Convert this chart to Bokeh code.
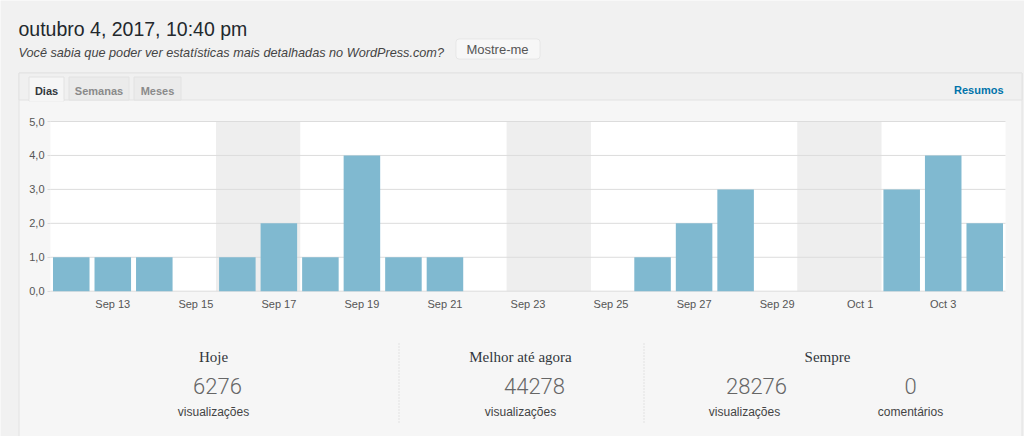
from bokeh.plotting import figure
from bokeh.models import Range1d, FixedTicker, LinearAxis, BoxAnnotation
from bokeh.embed import file_html
from bokeh.resources import INLINE
from bokeh.core.properties import value

# ---------------- data ----------------
days = ["Sep 12", "Sep 13", "Sep 14", "Sep 15", "Sep 16", "Sep 17", "Sep 18",
        "Sep 19", "Sep 20", "Sep 21", "Sep 22", "Sep 23", "Sep 24", "Sep 25",
        "Sep 26", "Sep 27", "Sep 28", "Sep 29", "Sep 30", "Oct 1", "Oct 2",
        "Oct 3", "Oct 4"]
views = [1, 1, 1, 0, 1, 2, 1, 4, 1, 1, 0, 0, 0, 0, 1, 2, 3, 0, 0, 0, 3, 4, 2]
weekend_days = ["Sep 16", "Sep 17", "Sep 23", "Sep 24", "Sep 30", "Oct 1"]
x_tick_days = ["Sep 13", "Sep 15", "Sep 17", "Sep 19", "Sep 21", "Sep 23",
               "Sep 25", "Sep 27", "Sep 29", "Oct 1", "Oct 3"]
y_ticks = [0, 1, 2, 3, 4, 5]
y_tick_labels = ["0,0", "1,0", "2,0", "3,0", "4,0", "5,0"]

title_text = "outubro 4, 2017, 10:40 pm"
subtitle_text = "Você sabia que poder ver estatísticas mais detalhadas no WordPress.com?"
button_text = "Mostre-me"
tabs = ["Dias", "Semanas", "Meses"]
link_text = "Resumos"

stat_headers = ["Hoje", "Melhor até agora", "Sempre"]
stat_numbers = ["6276", "44278", "28276", "0"]
stat_units = ["visualizações", "visualizações", "visualizações", "comentários"]

# ---------------- canvas (pixel space) ----------------
W, H = 1024, 436
# chart area on the canvas (pixels)
CL, CR, CT, CB = 50.0, 1005.0, 121.0, 290.7

n = len(days)
idx = list(range(n))
wk_idx = [days.index(d) for d in weekend_days]
ymax = y_ticks[-1]

p = figure(width=W, height=H, output_backend="svg", toolbar_location=None,
           x_range=Range1d(0, W), y_range=Range1d(H, 0),
           x_axis_location=None, y_axis_location=None,
           min_border=0, background_fill_color="#f1f1f1",
           border_fill_color="#f1f1f1", outline_line_color=None)
p.grid.visible = False

# chart ranges mapped into the chart area
xu = (CR - CL) / n
x0 = -0.5 - CL / xu
x1 = n - 0.5 + (W - CR) / xu
yu = (CB - CT) / ymax
y0 = -(H - CB) / yu
y1 = ymax + CT / yu
p.extra_x_ranges = {"days": Range1d(x0, x1)}
p.extra_y_ranges = {"views": Range1d(y0, y1)}
R = dict(x_range_name="days", y_range_name="views")


def rect(l, r, t, b, fill, line=None):
    p.quad(left=[l], right=[r], top=[t], bottom=[b], fill_color=fill,
           line_color=line, line_width=1)


def txt(x, y, s, size, color, font="Liberation Sans", style="normal",
        align="left", baseline="middle"):
    p.text(x=[x], y=[y], text=[s], text_font=value(font), text_font_size=size,
           text_font_style=style, text_color=color, text_align=align,
           text_baseline=baseline)


# panel
rect(18.5, 1021.5, 72.5, 445, "#f6f6f6", "#e2e2e2")
rect(18.5, 1021.5, 72.5, 99.5, "#f0f0f0", "#e2e2e2")
tab_boxes = [(68.5, 128.5), (133.5, 180.5)]
for l, r in tab_boxes:
    rect(l, r, 76.5, 99.5, "#ebebeb", "#e2e2e2")
rect(28.5, 63.5, 76.5, 100.5, "#f6f6f6", "#e2e2e2")
rect(29, 63, 99, 101, "#f6f6f6")

# button
p.add_layout(BoxAnnotation(left=455.5, right=539.5, top=38.5, bottom=58.5,
                           fill_color="#f7f7f7", fill_alpha=1,
                           line_color="#c8c8c8", border_radius=3,
                           level="underlay"))

# separators
p.segment(x0=[398.5, 643.5], x1=[398.5, 643.5], y0=[343, 343], y1=[422, 422],
          line_color="#cfcfcf", line_dash="1 2", line_width=1)

# chart background, weekend bands, grid lines, bars
p.quad(left=[-0.5], right=[n - 0.5], bottom=[0], top=[ymax], fill_color="white",
       line_color=None, **R)
p.vbar(x=wk_idx, top=ymax, bottom=0, width=1.03, fill_color="#eeeeee",
       line_color=None, **R)
p.segment(x0=-0.5, x1=n - 0.5, y0=y_ticks, y1=y_ticks, line_color="#dcdcdc",
          line_width=1, **R)
p.vbar(x=idx, top=views, width=0.88, fill_color="#80b9d0", line_color=None, **R)

# axes
yaxis = LinearAxis(ticker=FixedTicker(ticks=y_ticks), fixed_location=-0.5, **R)
yaxis.major_label_overrides = {t: s for t, s in zip(y_ticks, y_tick_labels)}
yaxis.axis_line_color = None
yaxis.major_tick_in = 0
yaxis.major_tick_out = 3
yaxis.major_tick_line_color = "#dcdcdc"
yaxis.minor_tick_line_color = None
yaxis.major_label_standoff = 3
yaxis.major_label_text_font = "Liberation Sans"
yaxis.major_label_text_font_size = "11px"
yaxis.major_label_text_color = "#555555"
p.add_layout(yaxis, "left")

xt = [days.index(d) for d in x_tick_days]
xaxis = LinearAxis(ticker=FixedTicker(ticks=xt), fixed_location=0, **R)
xaxis.major_label_overrides = {t: d for t, d in zip(xt, x_tick_days)}
xaxis.axis_line_color = None
xaxis.major_tick_line_color = None
xaxis.minor_tick_line_color = None
xaxis.major_tick_out = 0
xaxis.major_tick_in = 0
xaxis.major_label_standoff = 7
xaxis.major_label_text_font = "Liberation Sans"
xaxis.major_label_text_font_size = "11px"
xaxis.major_label_text_color = "#555555"
p.add_layout(xaxis, "below")

# header texts
txt(18, 28, title_text, "19.5px", "#23282d", baseline="alphabetic")
txt(18, 52, subtitle_text, "12.7px", "#444444", style="italic",
    baseline="alphabetic")
txt(497, 48.5, button_text, "13px", "#555555", align="center")

# tabs
tab_centers = [46, 98.5, 157]
for i, (t, cx) in enumerate(zip(tabs, tab_centers)):
    txt(cx, 90, t, "11px", "#32373c" if i == 0 else "#8a8a8a",
        style="bold", align="center")
txt(1003, 89, link_text, "11px", "#0073aa", style="bold", align="right")

# stats
for t, cx in zip(stat_headers, [213, 520, 827]):
    txt(cx, 356, t, "15px", "#32373c", font="Liberation Serif", align="center")
for t, cx in zip(stat_numbers, [217, 534, 756, 910]):
    txt(cx, 385, t, "22px", "#666666", font="Roboto Light", align="center")
for t, cx in zip(stat_units, [213, 520, 744, 910]):
    txt(cx, 411, t, "12px", "#444444", align="center")

open("out.html", "w").write(file_html(p, INLINE))
